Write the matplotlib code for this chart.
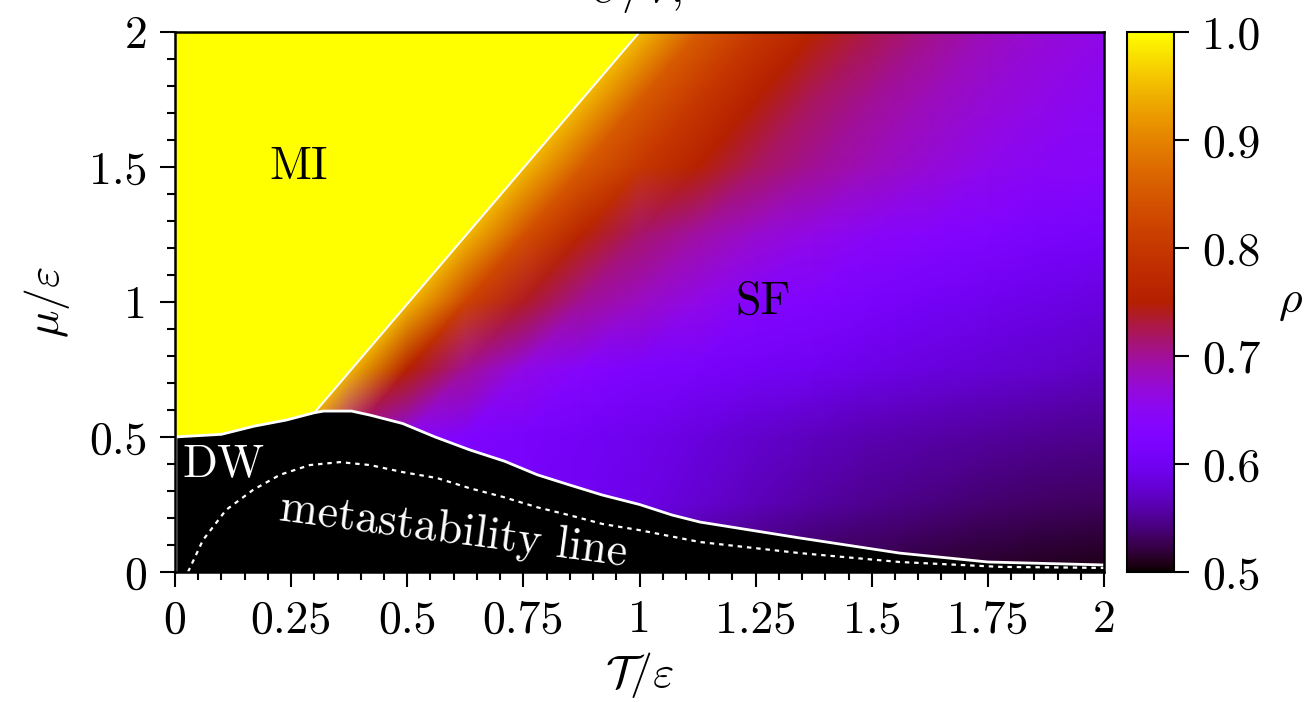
import numpy as np
import matplotlib.pyplot as plt
import matplotlib.tri as mtri
from matplotlib.ticker import MultipleLocator

plt.rcParams['font.family'] = 'serif'
plt.rcParams['font.serif'] = ['cmr10']
plt.rcParams['mathtext.fontset'] = 'cm'
plt.rcParams['axes.formatter.use_mathtext'] = True

# grid of density values rho(T, mu)
T_nodes = [0, 0.125, 0.25, 0.375, 0.5, 0.625, 0.75, 0.875, 1.0,
           1.125, 1.25, 1.375, 1.5, 1.625, 1.75, 1.875, 2.0]
mu_nodes = [0, 0.25, 0.5, 0.75, 1.0, 1.25, 1.5, 1.75, 2.0]

rho_mu000 = [0.56, 0.56, 0.56, 0.56, 0.56, 0.56, 0.56, 0.56, 0.55,
             0.54, 0.533, 0.527, 0.522, 0.517, 0.513, 0.509, 0.506]
rho_mu025 = [0.61, 0.61, 0.61, 0.61, 0.61, 0.61, 0.61, 0.60, 0.59,
             0.578, 0.566, 0.556, 0.548, 0.542, 0.537, 0.533, 0.53]
rho_mu050 = [1.0, 1.0, 0.95, 0.70, 0.65, 0.625, 0.615, 0.605, 0.595,
             0.585, 0.575, 0.568, 0.562, 0.558, 0.554, 0.55, 0.547]
rho_mu075 = [1.0, 1.0, 1.0, 0.95, 0.75, 0.70, 0.66, 0.635, 0.62,
             0.612, 0.605, 0.598, 0.59, 0.585, 0.58, 0.575, 0.57]
rho_mu100 = [1.0, 1.0, 1.0, 1.0, 0.95, 0.82, 0.74, 0.70, 0.68,
             0.66, 0.635, 0.625, 0.615, 0.605, 0.597, 0.59, 0.585]
rho_mu125 = [1.0, 1.0, 1.0, 1.0, 1.0, 0.95, 0.84, 0.76, 0.715,
             0.695, 0.675, 0.66, 0.645, 0.635, 0.625, 0.615, 0.61]
rho_mu150 = [1.0, 1.0, 1.0, 1.0, 1.0, 1.0, 0.95, 0.855, 0.80,
             0.755, 0.72, 0.70, 0.685, 0.67, 0.655, 0.645, 0.64]
rho_mu175 = [1.0, 1.0, 1.0, 1.0, 1.0, 1.0, 1.0, 0.95, 0.855,
             0.80, 0.75, 0.72, 0.70, 0.685, 0.67, 0.66, 0.648]
rho_mu200 = [1.0, 1.0, 1.0, 1.0, 1.0, 1.0, 1.0, 1.0, 0.95,
             0.855, 0.80, 0.755, 0.725, 0.705, 0.685, 0.67, 0.66]

# DW / SF(MI) boundary
dw_T = [0, 0.1, 0.17, 0.24, 0.3, 0.32, 0.38, 0.42, 0.49, 0.56, 0.635,
        0.71, 0.78, 0.85, 0.92, 1.0, 1.07, 1.13, 1.345, 1.56, 1.75, 2.0]
dw_mu = [0.5, 0.51, 0.54, 0.563, 0.59, 0.596, 0.596, 0.581, 0.55, 0.5, 0.452,
         0.41, 0.36, 0.322, 0.285, 0.25, 0.211, 0.185, 0.126, 0.07, 0.037, 0.026]

# MI / SF boundary
mi_T = [0.3, 1.0]
mi_mu = [0.59, 2.0]

# metastability line
meta_T = [0.028, 0.06, 0.11, 0.168, 0.226, 0.29, 0.355, 0.42, 0.49, 0.564,
          0.635, 0.706, 0.779, 0.85, 0.92, 1.0, 1.13, 1.345, 1.56, 1.776, 2.0]
meta_mu = [0.0, 0.118, 0.23, 0.304, 0.36, 0.396, 0.407, 0.396, 0.37, 0.348,
           0.31, 0.278, 0.24, 0.21, 0.178, 0.155, 0.111, 0.07, 0.037, 0.019, 0.015]

x_ticks = [0, 0.25, 0.5, 0.75, 1, 1.25, 1.5, 1.75, 2]
x_labels = ['0', '0.25', '0.5', '0.75', '1', '1.25', '1.5', '1.75', '2']
y_ticks = [0, 0.5, 1, 1.5, 2]
y_labels = ['0', '0.5', '1', '1.5', '2']
cb_ticks = [0.5, 0.6, 0.7, 0.8, 0.9, 1.0]
cb_labels = ['0.5', '0.6', '0.7', '0.8', '0.9', '1.0']

rho_grid = np.array([rho_mu000, rho_mu025, rho_mu050, rho_mu075, rho_mu100,
                     rho_mu125, rho_mu150, rho_mu175, rho_mu200])

# triangulate the grid, splitting each cell along the diagonal parallel to the MI line
TT, MM = np.meshgrid(T_nodes, mu_nodes)
nx, ny = len(T_nodes), len(mu_nodes)
tris = []
for j in range(ny - 1):
    for i in range(nx - 1):
        a = j * nx + i
        b = a + 1
        c = a + nx
        d = c + 1
        tris.append([a, b, d])
        tris.append([a, d, c])
triang = mtri.Triangulation(TT.ravel(), MM.ravel(), tris)

fs = 33
fig = plt.figure(figsize=(13.16, 7.02), dpi=100)
ax = fig.add_axes([0.1330, 0.1852, 0.7059, 0.7692])
cax = fig.add_axes([0.8564, 0.1852, 0.0357, 0.7692])

cmap = plt.get_cmap('gnuplot')
mesh = ax.tripcolor(triang, rho_grid.ravel(), shading='gouraud',
                    cmap=cmap, vmin=0.5, vmax=1.0)

# MI region (rho = 1)
n_mi = sum(1 for t in dw_T if t <= mi_T[0])
mi_poly_T = [0] + dw_T[:n_mi] + mi_T[1:] + [0]
mi_poly_mu = [2.0] + dw_mu[:n_mi] + mi_mu[1:] + [2.0]
ax.fill(mi_poly_T, mi_poly_mu, color=cmap(1.0), lw=0, zorder=2)
ax.plot(mi_T, mi_mu, color='white', lw=1.5, zorder=4)

# DW region (rho = 1/2)
ax.fill_between(dw_T, 0, dw_mu, color='black', lw=0, zorder=3)
ax.plot(dw_T, dw_mu, color='white', lw=2, zorder=4)
ax.plot([0, 0], [0, dw_mu[0]], color='white', lw=2.5, zorder=4)
ax.plot(meta_T, meta_mu, color='white', lw=1.6, ls=(0, (2, 2.2)), zorder=4)

ax.text(0.265, 1.5, 'MI', fontsize=fs, ha='center', va='center', zorder=5)
ax.text(1.265, 1.0, 'SF', fontsize=fs, ha='center', va='center', zorder=5)
ax.text(0.105, 0.4, 'DW', fontsize=fs, ha='center', va='center',
        color='white', zorder=5)
ax.text(0.6, 0.15, 'metastability line', fontsize=fs, ha='center',
        va='center', color='white', rotation=-7.5, zorder=5)

ax.set_xlim(0, 2)
ax.set_ylim(0, 2)
ax.set_xticks(x_ticks)
ax.set_xticklabels(x_labels)
ax.set_yticks(y_ticks)
ax.set_yticklabels(y_labels)
ax.xaxis.set_minor_locator(MultipleLocator(0.05))
ax.yaxis.set_minor_locator(MultipleLocator(0.1))
ax.tick_params(which='major', length=11, width=1.5, labelsize=fs, pad=9)
ax.tick_params(which='minor', length=6, width=1.5)
for s in ax.spines.values():
    s.set_linewidth(1.8)
    s.set_zorder(6)
ax.set_xlabel(r'$\mathcal{T}/\varepsilon$', fontsize=fs, labelpad=6)
ax.set_ylabel(r'$\mu/\varepsilon$', fontsize=fs, labelpad=12)

cb = fig.colorbar(mesh, cax=cax, ticks=cb_ticks)
cb.ax.set_yticklabels(cb_labels)
cb.ax.tick_params(length=11, width=1.5, labelsize=fs, pad=9)
cb.outline.set_linewidth(1.5)
cb.set_label(r'$\rho$', fontsize=fs, rotation=0, labelpad=22, va='center')

# title line, cut off at the top edge in the original
fig.text(0.448, 0.997, r'$U/V,$', fontsize=fs, ha='left', va='baseline')

fig.savefig('out.png', dpi=100)
